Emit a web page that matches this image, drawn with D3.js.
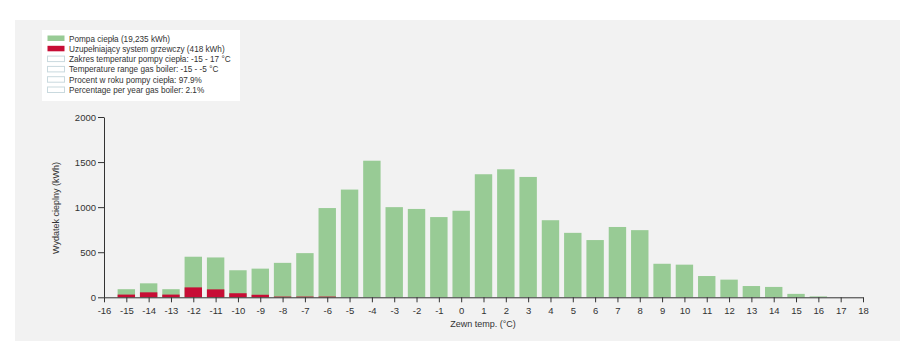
<!DOCTYPE html>
<html><head><meta charset="utf-8">
<script src="https://cdn.jsdelivr.net/npm/d3@7/dist/d3.min.js"></script>
<style>
body{margin:0;background:#fff;}
text{font-family:"Liberation Sans",Arial,sans-serif;}
</style></head>
<body><svg id="c" width="919" height="359"></svg>
<script>
const temps = [-15,-14,-13,-12,-11,-10,-9,-8,-7,-6,-5,-4,-3,-2,-1,0,1,2,3,4,5,6,7,8,9,10,11,12,13,14,15,16];
const heatPump = [90,155,90,450,442,300,318,382,490,990,1195,1515,1000,980,890,960,1365,1420,1335,855,715,635,780,745,372,362,236,196,125,115,38,10];
const gasBoiler = [30,55,30,110,88,45,28,8,8,8,0,0,0,0,0,0,0,0,0,0,0,0,0,0,0,0,0,0,0,0,0,0];
const xTicks = d3.range(-16,19);
const yTicks = [0,500,1000,1500,2000];
const legendItems = [
  {label:"Pompa ciepła (19,235 kWh)", color:"#98cb95"},
  {label:"Uzupełniający system grzewczy (418 kWh)", color:"#c70d35"},
  {label:"Zakres temperatur pompy ciepła: -15 - 17 °C", color:null},
  {label:"Temperature range gas boiler: -15 - -5 °C", color:null},
  {label:"Procent w roku pompy ciepła: 97.9%", color:null},
  {label:"Percentage per year gas boiler: 2.1%", color:null}
];

const svg = d3.select("#c");
svg.append("rect").attr("x",15).attr("y",20).attr("width",885).attr("height",321).attr("fill","#f2f2f2");

const x = d3.scaleLinear().domain([-16,18]).range([104,863]);
const y = d3.scaleLinear().domain([0,2000]).range([297.3,117]);
const bw = (x(1)-x(0))*0.78;

svg.append("g").selectAll("rect").data(temps).join("rect")
  .attr("x",(d)=>x(d)-bw/2).attr("width",bw)
  .attr("y",(d,i)=>y(heatPump[i])).attr("height",(d,i)=>y(0)-y(heatPump[i]))
  .attr("fill","#98cb95");
svg.append("g").selectAll("rect").data(temps).join("rect")
  .attr("x",(d)=>x(d)-bw/2).attr("width",bw)
  .attr("y",(d,i)=>y(gasBoiler[i])).attr("height",(d,i)=>y(0)-y(gasBoiler[i]))
  .attr("fill","#c70d35");

const xa = svg.append("g").attr("transform",`translate(0,${y(0)})`)
  .call(d3.axisBottom(x).tickValues(xTicks).tickSize(5).tickSizeOuter(0).tickFormat(d=>String(d)));
const ya = svg.append("g").attr("transform",`translate(${x(-16)},0)`)
  .call(d3.axisLeft(y).tickValues(yTicks).tickSize(6).tickSizeOuter(0).tickFormat(d=>String(d)));
[xa,ya].forEach(a=>{
  a.selectAll("path,line").attr("stroke","#333");
  a.selectAll("text").attr("fill","#333").style("font-size","9.5px").style("font-family","'Liberation Sans',Arial,sans-serif");
});
xa.selectAll("text").attr("dy","0.9em");
ya.selectAll("text").attr("x",-8);

svg.append("text").attr("x",483).attr("y",327).attr("text-anchor","middle")
  .attr("fill","#333").style("font-size","9px").text("Zewn temp. (°C)");
svg.append("text").attr("transform","translate(59,208) rotate(-90)").attr("text-anchor","middle")
  .attr("fill","#333").style("font-size","9px").text("Wydatek cieplny (kWh)");

const lg = svg.append("g");
lg.append("rect").attr("x",42).attr("y",30).attr("width",198).attr("height",71).attr("fill","#fff");
const rows = lg.selectAll("g").data(legendItems).join("g")
  .attr("transform",(d,i)=>`translate(47,${35+i*10.3})`);
rows.append("rect").attr("x",0.5).attr("y",0.5).attr("width",17).attr("height",5.5)
  .attr("fill",d=>d.color||"#fff").attr("stroke",d=>d.color?"none":"#c9d9de").attr("stroke-width",1);
rows.append("text").attr("x",22).attr("y",6.5).attr("fill","#333").style("font-size","8.2px").text(d=>d.label);
</script></body></html>
